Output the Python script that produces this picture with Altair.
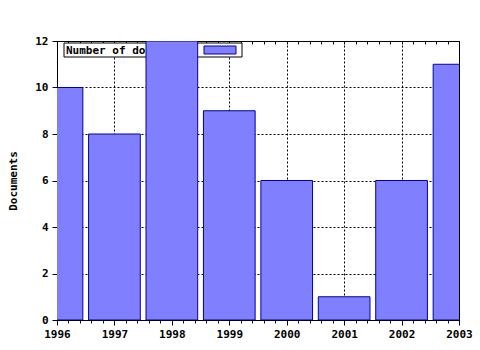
import altair as alt
import pandas as pd
import numpy as np

years = [1996, 1997, 1998, 1999, 2000, 2001, 2002, 2003]
docs = [10, 8, 12, 9, 6, 1, 6, 11]
legend_label = ["Number of documents"]

df = pd.DataFrame({"year": years, "docs": docs})
leg = pd.DataFrame({"label": legend_label})

FONT = "DejaVu Sans Mono"
minor_vals = [round(v, 1) for v in np.arange(1996, 2003.01, 0.2)]

xscale = alt.Scale(domain=[1996, 2003], nice=False, zero=False)
yscale = alt.Scale(domain=[0, 12], nice=False)

legend_box = alt.Chart(leg).mark_rect(fill="white", stroke="black", strokeWidth=1).encode(
    x=alt.value(7), x2=alt.value(185), y=alt.value(2), y2=alt.value(16)
)
legend_text = alt.Chart(leg).mark_text(
    font=FONT, fontWeight="bold", fontSize=11, align="left", baseline="middle", color="black"
).encode(x=alt.value(9), y=alt.value(9.5), text="label:N")
legend_sym = alt.Chart(leg).mark_rect(fill="#8080ff", stroke="#0000a0", strokeWidth=1).encode(
    x=alt.value(147), x2=alt.value(179), y=alt.value(5), y2=alt.value(13)
)

bars = alt.Chart(df).transform_calculate(
    x0="datum.year - 0.45", x1="datum.year + 0.45"
).mark_rect(fill="#8080ff", stroke="#0000a0", strokeWidth=1, clip=True).encode(
    x=alt.X("x0:Q", scale=xscale, title=None,
            axis=alt.Axis(values=years, format="d", orient="bottom",
                          tickSize=5, grid=True, gridDash=[2, 2], gridColor="black",
                          labelFont=FONT, labelFontWeight="bold", labelFontSize=11,
                          labelColor="black", labelPadding=3, domainColor="black",
                          tickColor="black", labelFlush=False, labelOverlap=False)),
    x2="x1:Q",
    y=alt.Y("docs:Q", scale=yscale, title="Documents",
            axis=alt.Axis(values=[0, 2, 4, 6, 8, 10, 12], grid=True, gridDash=[2, 2],
                          gridColor="black", tickSize=5, labelPadding=4,
                          labelFont=FONT, labelFontWeight="bold", labelFontSize=11,
                          labelColor="black", titleFont=FONT, titleFontWeight="bold",
                          titleFontSize=11, titleColor="black", titlePadding=16,
                          domainColor="black", tickColor="black")),
    y2=alt.value(279),
)

bottom_minor = alt.Chart(df).mark_point(opacity=0).encode(
    x=alt.X("year:Q", scale=xscale, title=None,
            axis=alt.Axis(values=minor_vals, tickCount=200, orient="bottom",
                          labels=False, domain=False, grid=False, tickSize=3,
                          tickColor="black")),
    y=alt.Y("docs:Q", scale=yscale),
)

top_ticks = alt.Chart(df).mark_point(opacity=0).encode(
    x=alt.X("year:Q", scale=xscale, title=None,
            axis=alt.Axis(values=minor_vals, tickCount=200, orient="bottom", offset=-279,
                          labels=False, domain=False, grid=False, tickSize=3,
                          tickColor="black")),
    y=alt.Y("docs:Q", scale=yscale),
)

chart = alt.layer(legend_box, legend_text, legend_sym, bars, bottom_minor, top_ticks).resolve_axis(
    x="independent"
).properties(
    width=402, height=279,
    autosize=alt.AutoSizeParams(type="none"),
    padding={"left": 57, "top": 41, "right": 21, "bottom": 30},
    background="white",
).configure_view(stroke="black", strokeWidth=1)

chart.save("out.html", embed_options={"renderer": "svg", "actions": False})
